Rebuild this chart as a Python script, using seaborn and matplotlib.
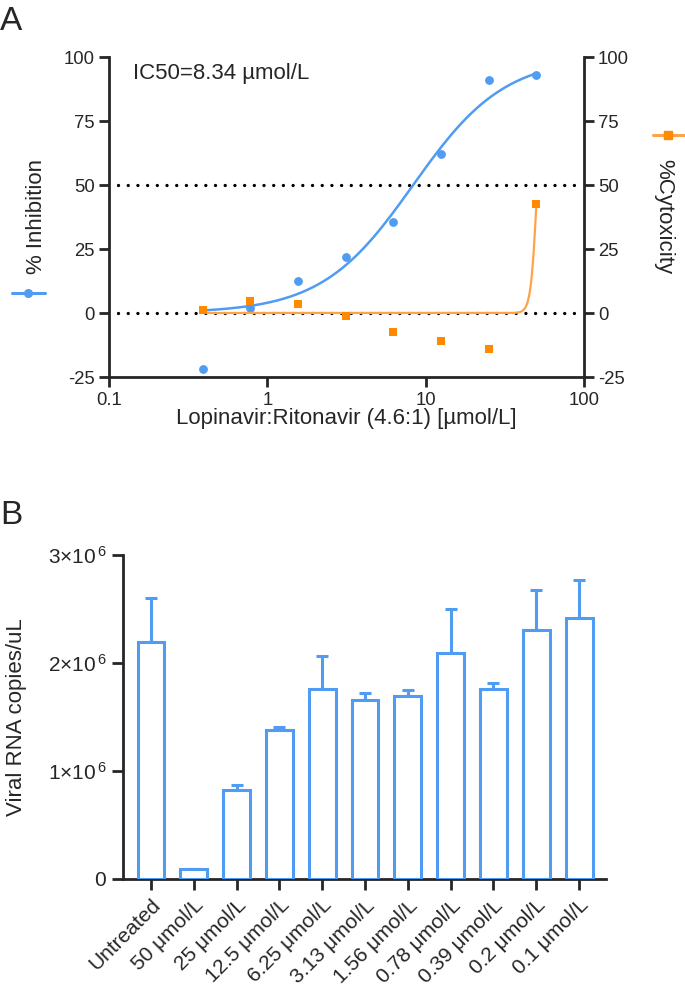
import numpy as np
import pandas as pd
import matplotlib
matplotlib.use("Agg")
import matplotlib.pyplot as plt
from matplotlib.lines import Line2D
import seaborn as sns

# ---------------- data ----------------
conc = [0.39, 0.78, 1.56, 3.13, 6.25, 12.5, 25, 50]
inhibition = [-22, 2, 12.5, 22, 35.5, 62, 91, 93]
cytotoxicity = [1, 4.5, 3.5, -1, -7.5, -11, -14, 42.5]

# fitted 4PL parameters
inh_bottom, inh_top, inh_ic50, inh_hill = 0.0, 100.0, 8.34, 1.5
cyt_bottom, cyt_top, cyt_ec50, cyt_hill = 0.0, 100.0, 50.7, 22.0

groups = ["Untreated", "50 μmol/L", "25 μmol/L", "12.5 μmol/L", "6.25 μmol/L",
          "3.13 μmol/L", "1.56 μmol/L", "0.78 μmol/L", "0.39 μmol/L",
          "0.2 μmol/L", "0.1 μmol/L"]
rna_mean = [2.19e6, 0.089e6, 0.822e6, 1.380e6, 1.755e6, 1.654e6, 1.697e6,
            2.097e6, 1.755e6, 2.307e6, 2.418e6]
rna_upper = [2.60e6, 0.095e6, 0.868e6, 1.407e6, 2.063e6, 1.722e6, 1.749e6,
             2.501e6, 1.811e6, 2.676e6, 2.769e6]

xticks_top = [0.1, 1, 10, 100]
xticklabels_top = ["0.1", "1", "10", "100"]
yticks_top = [-25, 0, 25, 50, 75, 100]
yticks_bot = [0, 1e6, 2e6, 3e6]
yticklabels_bot = ["0", r"1$\times$10$^{\,6}$", r"2$\times$10$^{\,6}$", r"3$\times$10$^{\,6}$"]

BLUE = "#4f9cf2"
ORANGE = "#ff8a00"
ORANGE_LINE = "#ffa348"

sns.set_theme(style="ticks")
plt.rcParams['font.family'] = ['Liberation Sans', 'DejaVu Sans']
plt.rcParams['mathtext.fontset'] = 'custom'
plt.rcParams['mathtext.rm'] = 'Liberation Sans'
plt.rcParams['mathtext.it'] = 'Liberation Sans'
plt.rcParams['mathtext.default'] = 'regular'
plt.rcParams['axes.unicode_minus'] = False

fig = plt.figure(figsize=(6.85, 9.9), dpi=100)
W, H = 685, 990

def axrect(l, t, r, b):
    return [l / W, 1 - b / H, (r - l) / W, (b - t) / H]

SPW = 2.0

# ---------------- panel A ----------------
ax = fig.add_axes(axrect(109, 57, 584, 377))
ax2 = ax.twinx()

def fourpl(x, bottom, top, c, h):
    x = np.asarray(x, dtype=float)
    return bottom + (top - bottom) / (1 + (c / x) ** h)

xs = np.logspace(np.log10(conc[0]), np.log10(conc[-1]), 400)
df_fit = pd.DataFrame({"x": xs,
                       "inh": fourpl(xs, inh_bottom, inh_top, inh_ic50, inh_hill),
                       "cyt": fourpl(xs, cyt_bottom, cyt_top, cyt_ec50, cyt_hill)})
df_pts = pd.DataFrame({"x": conc, "inh": inhibition, "cyt": cytotoxicity})

for yv in (0, 50):
    ax.axhline(yv, xmin=0.018, xmax=0.99, color="black", lw=2.4,
               linestyle=(0, (0.01, 2.9)), dash_capstyle="round", zorder=1)

sns.lineplot(data=df_fit, x="x", y="cyt", ax=ax2, color=ORANGE_LINE, lw=1.6, zorder=3)
sns.scatterplot(data=df_pts, x="x", y="cyt", ax=ax2, color=ORANGE, marker="s",
                s=36, linewidth=0, zorder=4)
sns.lineplot(data=df_fit, x="x", y="inh", ax=ax, color=BLUE, lw=1.8, zorder=3)
sns.scatterplot(data=df_pts, x="x", y="inh", ax=ax, color=BLUE, marker="o",
                s=40, linewidth=0, zorder=4)

for a in (ax, ax2):
    a.set_xscale("log")
    a.set_xlim(0.1, 100)
    a.set_ylim(-25, 100)
    a.set_yticks(yticks_top)
    a.spines["top"].set_visible(False)
    for s in a.spines.values():
        s.set_linewidth(SPW)
    a.tick_params(axis="both", which="major", length=7, width=SPW, labelsize=13.3, pad=3)
    a.tick_params(axis="x", which="minor", length=0)
ax.set_xticks(xticks_top)
ax.set_xticklabels(xticklabels_top)
ax.tick_params(axis="x", pad=4)
ax.spines["right"].set_visible(False)
ax2.spines["left"].set_visible(False)
ax2.spines["bottom"].set_visible(False)
ax.set_xlabel("Lopinavir:Ritonavir (4.6:1) [µmol/L]", fontsize=16, labelpad=-1)
ax.set_ylabel("% Inhibition", fontsize=16, labelpad=12)
ax2.set_ylabel("%Cytoxicity", fontsize=16, rotation=270, labelpad=33)
ax.text(0.05, 0.95, "IC50=8.34 µmol/L", transform=ax.transAxes, fontsize=16,
        ha="left", va="center")

# legend handles outside
fig.add_artist(Line2D([12 / W, 45 / W], [1 - 293 / H] * 2, color=BLUE, lw=2.2,
                      transform=fig.transFigure))
fig.add_artist(Line2D([28 / W], [1 - 293 / H], color=BLUE, marker="o", ms=5.5,
                      lw=0, transform=fig.transFigure))
fig.add_artist(Line2D([653 / W, 690 / W], [1 - 135 / H] * 2, color=ORANGE_LINE, lw=2.2,
                      transform=fig.transFigure))
fig.add_artist(Line2D([668 / W], [1 - 135 / H], color=ORANGE, marker="s", ms=5.5,
                      lw=0, transform=fig.transFigure))

fig.text(0 / W, 1 - 21 / H, "A", fontsize=24, ha="left", va="center")
fig.text(0 / W, 1 - 516 / H, "B", fontsize=24, ha="left", va="center")

# ---------------- panel B ----------------
bx = fig.add_axes(axrect(123, 555, 606, 879))
df_bar = pd.DataFrame({"group": groups, "mean": rna_mean})
sns.barplot(data=df_bar, x="group", y="mean", ax=bx, color="white",
            edgecolor=BLUE, linewidth=2.2, width=0.63, errorbar=None, zorder=3)
pos = np.arange(len(groups))
yerr_up = np.array(rna_upper) - np.array(rna_mean)
bx.errorbar(pos, rna_mean, yerr=[np.zeros_like(yerr_up), yerr_up], fmt="none",
            ecolor=BLUE, elinewidth=2.2, capsize=4.5, capthick=2.2, zorder=2)
bx.set_xlim(-0.654, 10.63)
bx.set_ylim(0, 3e6)
bx.set_yticks(yticks_bot)
bx.set_yticklabels(yticklabels_bot)
bx.spines["top"].set_visible(False)
bx.spines["right"].set_visible(False)
for s in bx.spines.values():
    s.set_linewidth(SPW)
bx.tick_params(axis="both", length=8, width=SPW, labelsize=15, pad=4)
bx.set_xticks(pos)
bx.set_xticklabels(groups, rotation=45, ha="right", rotation_mode="anchor", fontsize=15)
bx.set_xlabel("")
bx.set_ylabel("Viral RNA copies/uL", fontsize=16, labelpad=15)

fig.savefig("out.png", dpi=100)
